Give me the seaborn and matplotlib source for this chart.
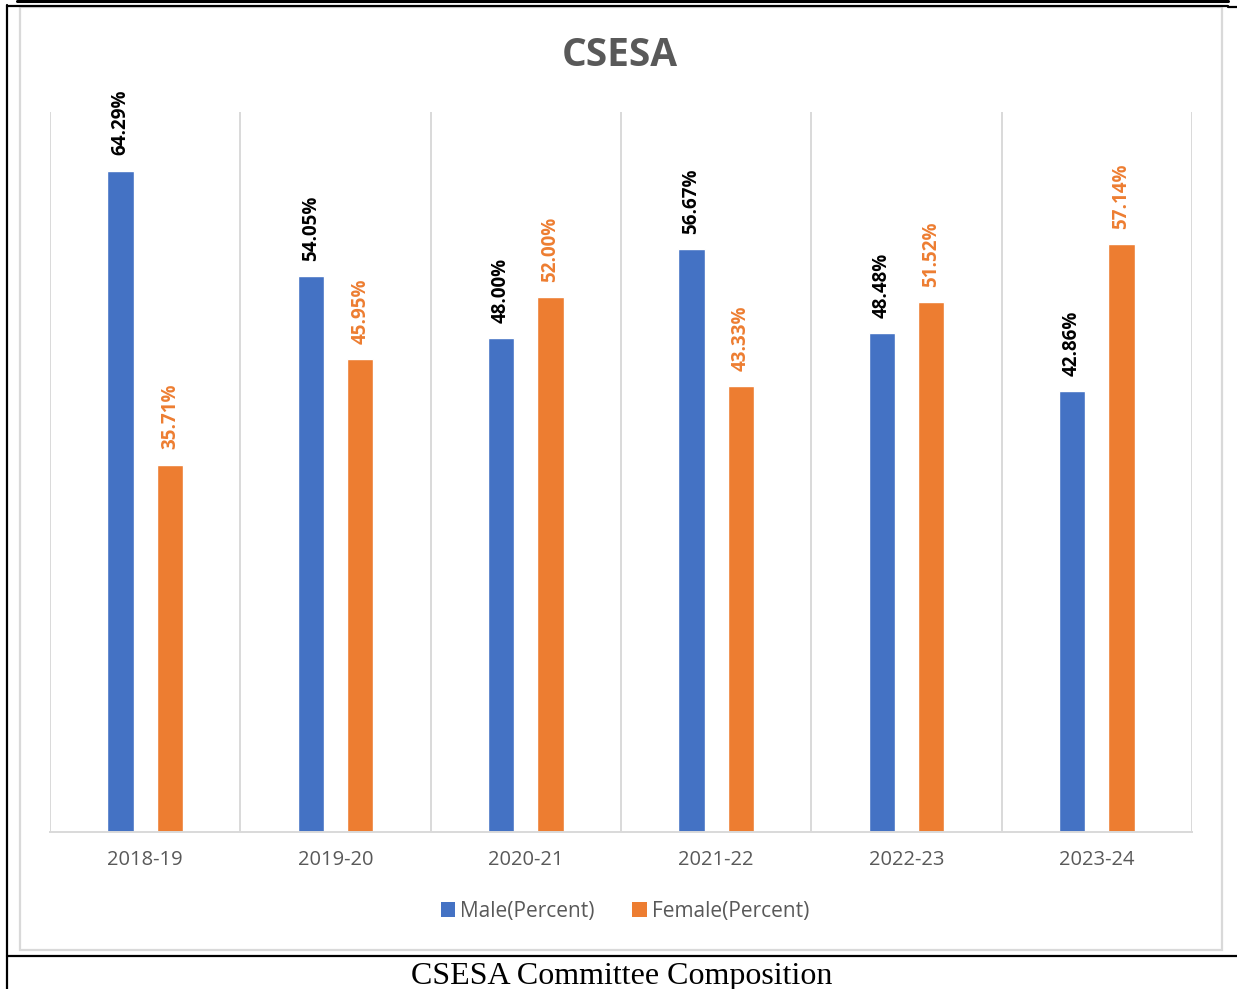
import matplotlib
matplotlib.use("Agg")
import matplotlib.pyplot as plt
import seaborn as sns
import pandas as pd
from matplotlib.patches import Patch, Rectangle
from matplotlib.lines import Line2D

years = ["2018-19", "2019-20", "2020-21", "2021-22", "2022-23", "2023-24"]
male = [64.29, 54.05, 48.00, 56.67, 48.48, 42.86]
female = [35.71, 45.95, 52.00, 43.33, 51.52, 57.14]
series = ["Male(Percent)", "Female(Percent)"]
colors = ["#4472C4", "#ED7D31"]
label_colors = ["#000000", "#ED7D31"]

df = pd.DataFrame({
    "year": years * 2,
    "value": male + female,
    "series": [series[0]] * len(years) + [series[1]] * len(years),
})

sns.set_theme(style="white")
plt.rcParams['font.family'] = ['Open Sans', 'DejaVu Sans']

W, H = 1237, 989
fig = plt.figure(figsize=(W / 100, H / 100), dpi=100)
ax = fig.add_axes([50 / W, 1 - 832 / H, (1192 - 50) / W, (832 - 112) / H])

sns.barplot(data=df, x="year", y="value", hue="series", palette=colors,
            width=0.52, gap=0.47, ax=ax, legend=False, saturation=1)

for cont, col in zip(ax.containers, label_colors):
    ax.bar_label(cont, labels=[f"{v:.2f}%" for v in cont.datavalues],
                 rotation=90, padding=11, color=col, fontsize=13.5,
                 fontweight="bold")

ax.set_ylim(0, 70)
ax.set_xlim(-0.5, len(years) - 0.5)
ax.set_yticks([])
ax.set_xlabel("")
ax.set_ylabel("")
ax.set_xticks(range(len(years)))
ax.set_xticklabels(years, color="#595959", fontsize=14.5)
ax.tick_params(axis="x", length=0, pad=13)
ax.set_xticks([i - 0.5 for i in range(len(years) + 1)], minor=True)
ax.tick_params(axis="x", which="minor", length=0)
ax.grid(axis="x", which="minor", color="#D9D9D9", linewidth=1.4)
ax.grid(axis="x", which="major", visible=False)
for s in ["top", "left", "right"]:
    ax.spines[s].set_visible(False)
ax.spines["bottom"].set_color("#D9D9D9")
ax.spines["bottom"].set_linewidth(1.4)

handles = [Patch(facecolor=c, edgecolor="none") for c in colors]
fig.legend(handles, series, loc="center", bbox_to_anchor=(625 / W, 1 - 911 / H),
           ncol=2, frameon=False, handlelength=0.7, handleheight=0.7,
           handletextpad=0.25, columnspacing=1.8,
           prop={"size": 15}, labelcolor="#595959")

fig.text(620 / W, 1 - 55 / H, "CSESA", ha="center", va="center",
         fontsize=28, fontweight="bold", color="#595959")

# chart frame
fig.patches.append(Rectangle((20 / W, 1 - 950 / H), (1222 - 20) / W, (950 - 7) / H,
                             transform=fig.transFigure, fill=False,
                             edgecolor="#D9D9D9", linewidth=1.6))

def fline(x0, y0, x1, y1, lw=1.6):
    fig.add_artist(Line2D([x0 / W, x1 / W], [1 - y0 / H, 1 - y1 / H],
                          transform=fig.transFigure, color="black", linewidth=lw))

fline(17, 1, 1228, 1, lw=2.2)
fline(7, 5.5, 1228, 5.5)
fline(1228, 6.5, 1237, 6.5)
fline(7, 5, 7, 989)
fline(7, 956, 1237, 956)

fig.text(622 / W, 1 - 984 / H, "CSESA Committee Composition", ha="center",
         va="baseline", fontsize=23, family=["Liberation Serif", "DejaVu Serif"],
         color="black")

fig.savefig("out.png", dpi=100)
